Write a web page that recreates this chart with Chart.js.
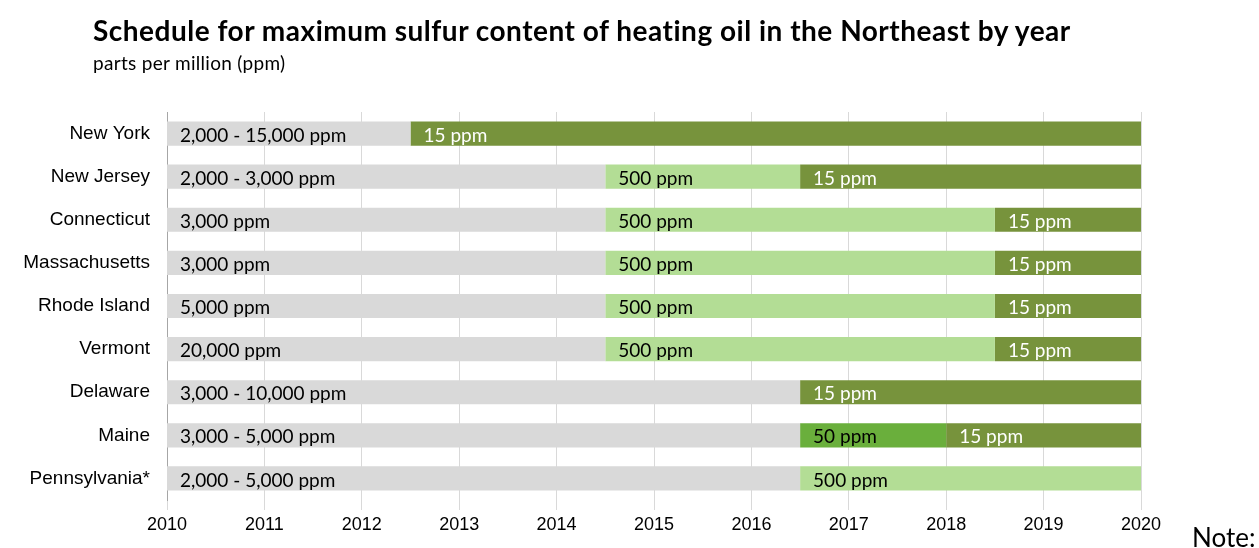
<!DOCTYPE html>
<html>
<head>
<meta charset="utf-8">
<script src="https://cdn.jsdelivr.net/npm/chart.js@4.4.1/dist/chart.umd.min.js"></script>
<style>
  html, body { margin: 0; padding: 0; background: #ffffff; }
  #wrap { position: relative; width: 1259px; height: 548px; overflow: hidden; }
  #chart { position: absolute; left: 0; top: 0; }
  .title { position: absolute; left: 93px; top: 13px; font-family: Lato, "Open Sans", sans-serif; font-weight: 700; font-size: 28px; letter-spacing: 0.5px; color: #000; white-space: nowrap; }
  .subtitle { position: absolute; left: 93px; top: 51px; font-family: Lato, "Open Sans", sans-serif; font-size: 19px; letter-spacing: 0.3px; color: #000; white-space: nowrap; }
  .note { position: absolute; left: 1192px; top: 521px; font-family: Lato, "Open Sans", sans-serif; font-size: 26px; color: #000; white-space: nowrap; }
</style>
</head>
<body>
<div id="wrap">
  <canvas id="chart" width="1259" height="548"></canvas>
  <div class="title">Schedule for maximum sulfur content of heating oil in the Northeast by year</div>
  <div class="subtitle">parts per million (ppm)</div>
  <div class="note">Note:</div>
</div>
<script>
const states = ['New York', 'New Jersey', 'Connecticut', 'Massachusetts', 'Rhode Island', 'Vermont', 'Delaware', 'Maine', 'Pennsylvania*'];
const years = [2010, 2011, 2012, 2013, 2014, 2015, 2016, 2017, 2018, 2019, 2020];

// Period with the original (high) sulfur limit
const highSulfur = [[2010, 2012.5], [2010, 2014.5], [2010, 2014.5], [2010, 2014.5], [2010, 2014.5], [2010, 2014.5], [2010, 2016.5], [2010, 2016.5], [2010, 2016.5]];
const highLabels = ['2,000 - 15,000 ppm', '2,000 - 3,000 ppm', '3,000 ppm', '3,000 ppm', '5,000 ppm', '20,000 ppm', '3,000 - 10,000 ppm', '3,000 - 5,000 ppm', '2,000 - 5,000 ppm'];

// 500 ppm period
const ppm500 = [null, [2014.5, 2016.5], [2014.5, 2018.5], [2014.5, 2018.5], [2014.5, 2018.5], [2014.5, 2018.5], null, null, [2016.5, 2020]];
// 50 ppm period
const ppm50 = [null, null, null, null, null, null, null, [2016.5, 2018], null];
// 15 ppm period
const ppm15 = [[2012.5, 2020], [2016.5, 2020], [2018.5, 2020], [2018.5, 2020], [2018.5, 2020], [2018.5, 2020], [2016.5, 2020], [2018, 2020], null];

const seriesLabels = {
  high: highLabels,
  p500: states.map(() => '500 ppm'),
  p50: states.map(() => '50 ppm'),
  p15: states.map(() => '15 ppm')
};

const barLabelPlugin = {
  id: 'barLabels',
  afterDatasetsDraw(chart) {
    const ctx = chart.ctx;
    ctx.save();
    ctx.font = '19px Lato, "Open Sans", sans-serif';
    ctx.textBaseline = 'middle';
    ctx.textAlign = 'left';
    chart.data.datasets.forEach((ds, di) => {
      const meta = chart.getDatasetMeta(di);
      meta.data.forEach((el, i) => {
        if (ds.data[i] == null) return;
        const txt = seriesLabels[ds.key][i];
        const left = Math.min(el.x, el.base);
        ctx.fillStyle = ds.textColor;
        ctx.fillText(txt, left + 13, el.y + 2);
      });
    });
    ctx.restore();
  }
};

new Chart(document.getElementById('chart'), {
  type: 'bar',
  data: {
    labels: states,
    datasets: [
      { key: 'high', label: 'Original limit', data: highSulfur, backgroundColor: '#d9d9d9', textColor: '#000000' },
      { key: 'p500', label: '500 ppm', data: ppm500, backgroundColor: '#b3dd95', textColor: '#000000' },
      { key: 'p50', label: '50 ppm', data: ppm50, backgroundColor: '#6aaf3c', textColor: '#000000' },
      { key: 'p15', label: '15 ppm', data: ppm15, backgroundColor: '#77933c', textColor: '#ffffff' }
    ]
  },
  options: {
    indexAxis: 'y',
    responsive: false,
    animation: false,
    devicePixelRatio: 1,
    datasets: { bar: { grouped: false, barPercentage: 0.56, categoryPercentage: 1, borderWidth: 0 } },
    layout: { padding: { top: 112, right: 118, left: 0, bottom: 0 } },
    plugins: { legend: { display: false }, tooltip: { enabled: false }, title: { display: false } },
    scales: {
      x: {
        type: 'linear',
        min: years[0],
        max: years[years.length - 1],
        afterBuildTicks(scale) { scale.ticks = years.map(v => ({ value: v })); },
        grid: { color: '#d9d9d9', lineWidth: 1, drawTicks: true, tickLength: 10, tickColor: '#d9d9d9' },
        border: { display: false },
        ticks: { color: '#000000', padding: 4, font: { family: '"Liberation Sans", Arial, sans-serif', size: 18 }, callback: v => String(v) },
        afterFit(scale) { scale.height = 48; }
      },
      y: {
        grid: { display: false, drawTicks: false },
        border: { display: true, color: '#a6a6a6', width: 1 },
        ticks: { color: '#000000', padding: 17, font: { family: '"Liberation Sans", Arial, sans-serif', size: 19 } },
        afterFit(scale) { scale.width = 167; }
      }
    }
  },
  plugins: [barLabelPlugin]
});
</script>
</body>
</html>
